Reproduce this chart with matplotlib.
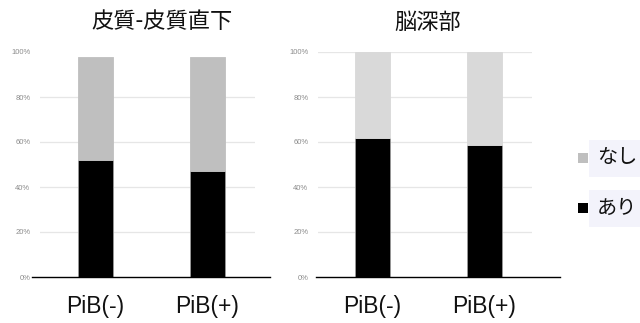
import matplotlib
matplotlib.use("Agg")
import matplotlib.pyplot as plt
from matplotlib.patches import Rectangle

categories = ["PiB(-)", "PiB(+)"]
titles = ["皮質-皮質直下", "脳深部"]
series_names = ["なし", "あり"]
left_ari = [52, 47]
left_nashi = [46, 51]
right_ari = [62, 58.5]
right_nashi = [38, 41.5]
yticks = [0, 20, 40, 60, 80, 100]
ytick_labels = ["0%", "20%", "40%", "60%", "80%", "100%"]

W, H = 640, 323
fig = plt.figure(figsize=(6.4, 3.23), dpi=100)
fig.patch.set_facecolor("white")

def px(x0, x1, y0, y1):
    return [x0 / W, 1 - y1 / H, (x1 - x0) / W, (y1 - y0) / H]

panels = [
    dict(rect=px(40, 255, 52, 277), xlim=(-0.4955, 1.424), ari=left_ari, nashi=left_nashi,
         gray="#bfbfbf", base=(-0.037, 1.07), grid_top=False, title_x=162),
    dict(rect=px(318, 532, 52, 277), xlim=(-0.487, 1.424), ari=right_ari, nashi=right_nashi,
         gray="#d9d9d9", base=(-0.01, 1.13), grid_top=True, title_x=428),
]

for p, title in zip(panels, titles):
    ax = fig.add_axes(p["rect"])
    x = list(range(len(categories)))
    ax.bar(x, p["ari"], width=0.3125, color="black", edgecolor="#9a9a9a", linewidth=0.6, zorder=3)
    ax.bar(x, p["nashi"], bottom=p["ari"], width=0.3125, color=p["gray"],
           edgecolor=p["gray"], linewidth=0.6, zorder=3)
    ax.set_xlim(*p["xlim"])
    ax.set_ylim(0, 100)
    for yv in yticks[1:]:
        if yv == 100 and not p["grid_top"]:
            continue
        ax.axhline(yv, color="#e6e6e6", linewidth=0.9, zorder=1)
    ax.plot(list(p["base"]), [0, 0], transform=ax.get_yaxis_transform(), color="black",
            linewidth=1.0, clip_on=False, zorder=4)
    for s in ax.spines.values():
        s.set_visible(False)
    ax.set_yticks(yticks)
    ax.set_yticklabels(ytick_labels, fontsize=5.5, color="#8c8c8c", family="Liberation Sans")
    ax.tick_params(axis="y", length=0, pad=7)
    ax.set_xticks(x)
    ax.set_xticklabels(categories, fontsize=16.5, family="Liberation Sans", color="#111111")
    ax.tick_params(axis="x", length=0, pad=13)
    ax.set_facecolor("none")
    fig.text(p["title_x"] / W, 1 - 22 / H, title, ha="center", va="center",
             fontsize=16, family=["Noto Sans CJK JP", "DejaVu Sans"], color="#111111")

# legend
leg_colors = ["#bfbfbf", "black"]
leg_y = [158, 208]
for name, col, yy in zip(series_names, leg_colors, leg_y):
    fig.patches.append(Rectangle((578 / W, 1 - (yy + 5) / H), 10 / W, 10 / H,
                                 transform=fig.transFigure, facecolor=col, edgecolor="none"))
    fig.patches.append(Rectangle((589 / W, 1 - (yy + 19) / H), 51 / W, 37 / H,
                                 transform=fig.transFigure, facecolor="#f3f3fb", edgecolor="none"))
    fig.text(597 / W, 1 - yy / H, name, ha="left", va="center", fontsize=14.5,
             family=["Noto Sans CJK JP", "DejaVu Sans"], color="#111111")

fig.savefig("out.png", dpi=100)
